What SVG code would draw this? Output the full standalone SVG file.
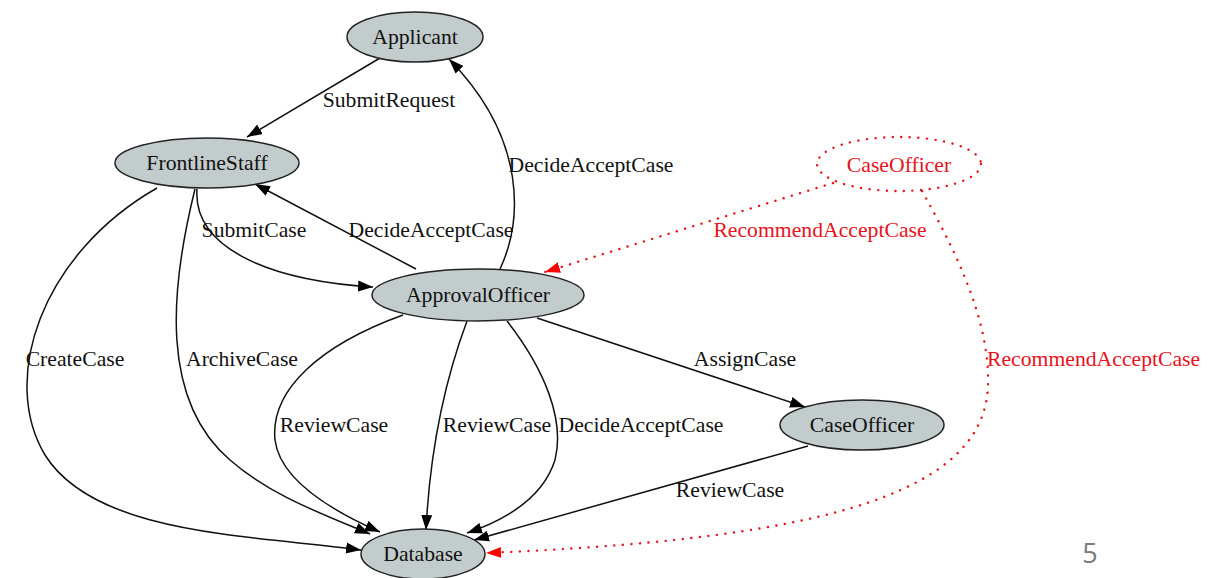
<svg xmlns="http://www.w3.org/2000/svg" width="1230" height="578" viewBox="0 0 1230 578">
  <style>
    .node { fill: #c3cccc; stroke: #222; stroke-width: 1.5; }
    .dnode { fill: none; stroke: #e8121b; stroke-width: 2.4; stroke-dasharray: 0.1 8.5; stroke-linecap: round; }
    .lbl { font-family: "Liberation Serif", "Times New Roman", serif; font-size: 21.7px; fill: #111; }
    .red { fill: #e8121b; }
    .edge { fill: none; stroke: #111; stroke-width: 1.5; }
    .dedge { fill: none; stroke: #e8121b; stroke-width: 2.4; stroke-dasharray: 0.1 8.5; stroke-linecap: round; }
    .mid { text-anchor: middle; }
  </style>
  <defs>
    <marker id="arr" markerUnits="userSpaceOnUse" markerWidth="16" markerHeight="12" refX="15" refY="6" orient="auto">
      <path d="M0,0.5 L15,6 L0,11.5 z" fill="#000"/>
    </marker>
    <marker id="arrRed" markerUnits="userSpaceOnUse" markerWidth="16" markerHeight="12" refX="15" refY="6" orient="auto">
      <path d="M0,0.5 L15,6 L0,11.5 z" fill="#ff0000"/>
    </marker>
  </defs>
  <rect width="1230" height="578" fill="#fff"/>

  <!-- connectors -->
  <g id="edges">
    <path class="edge" d="M380,58 L247,137" marker-end="url(#arr)"/>
    <text class="lbl mid" x="389" y="107">SubmitRequest</text>

    <path class="edge" d="M500,269 C522,222 528,140 449,59" marker-end="url(#arr)"/>
    <text class="lbl mid" x="591" y="172">DecideAcceptCase</text>

    <path class="edge" d="M197,189 C193,245 262,280 373,287" marker-end="url(#arr)"/>
    <text class="lbl mid" x="254" y="237">SubmitCase</text>

    <path class="edge" d="M416,269 L255,184" marker-end="url(#arr)"/>
    <text class="lbl mid" x="431" y="237">DecideAcceptCase</text>

    <path class="edge" d="M157,188 C40,255 0,380 45,455 C95,535 250,535 361,550" marker-end="url(#arr)"/>
    <text class="lbl mid" x="75" y="366">CreateCase</text>

    <path class="edge" d="M195,189 C170,290 160,400 230,460 C270,495 320,513 370,534" marker-end="url(#arr)"/>
    <text class="lbl mid" x="242" y="366">ArchiveCase</text>

    <path class="edge" d="M403,315 C320,345 270,390 275,440 C280,480 330,510 380,532" marker-end="url(#arr)"/>
    <text class="lbl mid" x="334" y="432">ReviewCase</text>

    <path class="edge" d="M467,321 C445,380 430,450 426,530" marker-end="url(#arr)"/>
    <text class="lbl mid" x="497" y="432">ReviewCase</text>

    <path class="edge" d="M507,321 C545,370 565,420 555,460 C543,498 505,520 467,533" marker-end="url(#arr)"/>
    <text class="lbl mid" x="641" y="432">DecideAcceptCase</text>

    <path class="edge" d="M537,318 L805,407" marker-end="url(#arr)"/>
    <text class="lbl mid" x="745" y="366">AssignCase</text>

    <path class="edge" d="M808,446 L474,540" marker-end="url(#arr)"/>
    <text class="lbl mid" x="730" y="497">ReviewCase</text>

    <path class="dedge" d="M833,183 L545,272" marker-end="url(#arrRed)"/>
    <text class="lbl mid red" x="820" y="237">RecommendAcceptCase</text>

    <path class="dedge" d="M922,191 C955,250 990,320 988,385 C985,500 800,540 486,553" marker-end="url(#arrRed)"/>
    <text class="lbl red" x="987" y="366">RecommendAcceptCase</text>
  </g>

  <!-- nodes -->
  <g id="Applicant">
    <ellipse class="node" cx="415" cy="37" rx="68" ry="25"/>
    <text class="lbl mid" x="415" y="44">Applicant</text>
  </g>
  <g id="FrontlineStaff">
    <ellipse class="node" cx="207" cy="163" rx="92" ry="25"/>
    <text class="lbl mid" x="207" y="170">FrontlineStaff</text>
  </g>
  <g id="ApprovalOfficer">
    <ellipse class="node" cx="478" cy="295" rx="106" ry="26"/>
    <text class="lbl mid" x="478" y="302">ApprovalOfficer</text>
  </g>
  <g id="CaseOfficerRecommend">
    <ellipse class="dnode" cx="899" cy="164" rx="82" ry="27"/>
    <text class="lbl mid red" x="899" y="172">CaseOfficer</text>
  </g>
  <g id="CaseOfficer">
    <ellipse class="node" cx="862" cy="425" rx="82" ry="25"/>
    <text class="lbl mid" x="862" y="432">CaseOfficer</text>
  </g>
  <g id="Database">
    <ellipse class="node" cx="423" cy="554" rx="62" ry="25"/>
    <text class="lbl mid" x="423" y="561">Database</text>
  </g>

  <!-- page number -->
  <text x="1090" y="563" text-anchor="middle" font-family="'Open Sans', 'Noto Sans', sans-serif" font-size="27" fill="#7a7a7a">5</text>
</svg>
